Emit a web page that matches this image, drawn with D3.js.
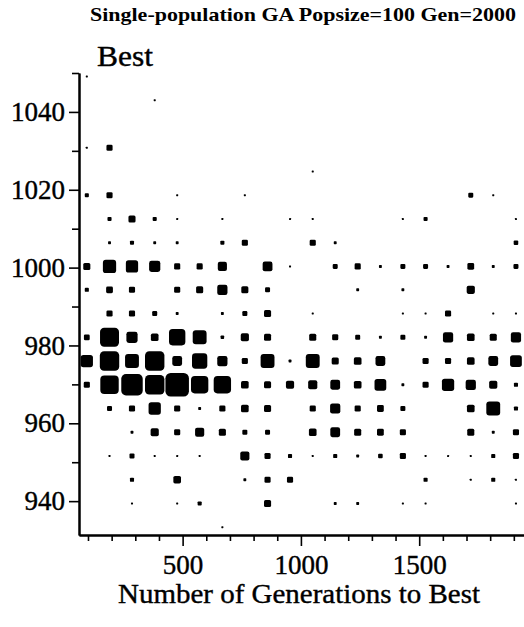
<!DOCTYPE html>
<html>
<head>
<meta charset="utf-8">
<script src="https://cdn.jsdelivr.net/npm/d3@7"></script>
<style>
  body { margin: 0; background: #fff; }
  svg text { font-family: "Liberation Serif", "Times New Roman", serif; fill: #000; }
</style>
</head>
<body>
<svg id="chart"></svg>
<script>
// bin centres of the 2-D histogram
var genBins = [95, 191, 286, 382, 477, 572, 668, 763, 859, 954,
               1050, 1145, 1240, 1336, 1431, 1527, 1622, 1718, 1813, 1909];
var bestBins = [1049.1, 1043.0, 1036.9, 1030.8, 1024.7, 1018.6, 1012.5, 1006.4, 1000.3, 994.3,
                988.2, 982.1, 976.0, 969.9, 963.8, 957.7, 951.6, 945.5, 939.4, 933.3];

// counts, one row per Best bin (top to bottom), one column per generation bin
var counts = [
  [1,0,0,0,0,0,0,0,0,0, 0,0,0,0,0,0,0,0,0,0],
  [0,0,0,1,0,0,0,0,0,0, 0,0,0,0,0,0,0,0,0,0],
  [0,0,0,0,0,0,0,0,0,0, 0,0,0,0,0,0,0,0,0,0],
  [1,9,0,0,0,0,0,0,0,0, 0,0,0,0,0,0,0,0,0,0],
  [0,0,0,0,0,0,0,0,0,0, 1,0,0,0,0,0,0,0,0,0],
  [4,9,0,0,1,0,0,1,0,0, 0,0,0,0,0,0,0,6,1,0],
  [0,4,12,4,1,0,1,0,0,1, 1,0,0,0,1,4,0,0,0,1],
  [0,2,4,2,2,0,4,9,0,0, 9,2,0,0,0,0,0,0,0,5],
  [12,42,36,30,9,9,20,0,23,1, 0,6,9,2,6,6,2,11,2,6],
  [4,11,9,0,9,12,25,12,6,0, 0,0,2,0,2,0,0,16,0,0],
  [0,9,9,6,2,0,2,6,12,0, 1,0,0,0,1,1,9,0,1,1],
  [8,86,30,14,64,46,3,16,12,0, 12,9,6,2,6,2,25,14,12,25],
  [36,90,46,90,23,56,25,9,46,2, 46,12,14,23,0,9,9,14,23,33],
  [9,81,110,90,132,72,72,14,12,16, 20,23,14,33,2,9,36,25,16,4],
  [0,6,9,36,9,2,9,14,12,0, 9,25,9,11,6,0,0,14,46,4],
  [0,0,2,16,9,20,12,6,6,0, 14,23,12,11,9,0,0,12,2,9],
  [0,1,6,1,1,1,0,20,9,4, 1,4,2,5,9,1,1,1,4,9],
  [0,0,4,0,14,0,0,2,9,9, 0,0,0,0,0,4,0,1,4,1],
  [0,0,1,0,1,4,0,0,12,0, 0,2,2,0,1,1,0,0,0,1],
  [0,0,0,0,0,0,1,0,0,0, 0,0,0,0,0,0,0,0,0,0]
];

var xMajor = [500, 1000, 1500];
var xMinor = [100, 200, 300, 400, 600, 700, 800, 900, 1100, 1200, 1300, 1400, 1600, 1700, 1800, 1900];
var yMajor = [940, 960, 980, 1000, 1020, 1040];
var yMinor = [950, 970, 990, 1010, 1030, 1050];

var screen = {width: 524, height: 627};

var svg = d3.select("#chart")
    .attr("width", screen.width)
    .attr("height", screen.height);

var xScale = d3.scaleLinear()
    .domain([62, 1943])
    .range([79, 524]);

var yScale = d3.scaleLinear()
    .domain([931.3, 1050])
    .range([535, 73]);

// square side grows with the square root of the count
var sideScale = d3.scaleSqrt()
    .domain([0, 132])
    .range([0, 23.5]);

// flatten the grid into cells
var cells = [];
counts.forEach(function(row, i)
{
    row.forEach(function(n, j)
    {
        if (n > 0) cells.push({gen: genBins[j], best: bestBins[i], n: n});
    });
});

svg.append("g")
    .classed("graph", true)
    .selectAll("rect")
    .data(cells)
    .enter()
    .append("rect")
    .attr("x", function(d) { return xScale(d.gen) - sideScale(d.n) / 2; })
    .attr("y", function(d) { return yScale(d.best) - sideScale(d.n) / 2; })
    .attr("width", function(d) { return sideScale(d.n); })
    .attr("height", function(d) { return sideScale(d.n); })
    .attr("rx", function(d) { return sideScale(d.n) * 0.22; })
    .attr("fill", "#000");

// axes
var styleAxis = function(g)
{
    g.select(".domain").attr("stroke-width", 2);
    g.selectAll(".tick line").attr("stroke-width", 1.6);
    g.selectAll("text")
        .attr("font-family", "Liberation Serif, serif")
        .attr("font-size", 27)
        .attr("stroke", "#000")
        .attr("stroke-width", 0.4);
};

svg.append("g")
    .attr("transform", "translate(0,535)")
    .call(d3.axisBottom(xScale).tickValues(xMinor).tickSize(6).tickSizeOuter(0).tickFormat(""))
    .call(styleAxis);

svg.append("g")
    .attr("transform", "translate(0,535)")
    .call(d3.axisBottom(xScale).tickValues(xMajor).tickSize(11).tickSizeOuter(0)
          .tickPadding(9).tickFormat(d3.format("d")))
    .call(styleAxis);

svg.append("g")
    .attr("transform", "translate(79,0)")
    .call(d3.axisLeft(yScale).tickValues(yMinor).tickSize(7).tickSizeOuter(0).tickFormat(""))
    .call(styleAxis);

svg.append("g")
    .attr("transform", "translate(79,0)")
    .call(d3.axisLeft(yScale).tickValues(yMajor).tickSize(10).tickSizeOuter(0)
          .tickPadding(4).tickFormat(d3.format("d")))
    .call(styleAxis);

// titles
svg.append("text")
    .attr("x", 90)
    .attr("y", 21)
    .attr("font-size", 19)
    .attr("font-weight", "bold")
    .attr("textLength", 426)
    .attr("lengthAdjust", "spacingAndGlyphs")
    .text("Single-population GA Popsize=100 Gen=2000");

svg.append("text")
    .attr("x", 97)
    .attr("y", 66)
    .attr("font-size", 29)
    .attr("stroke", "#000")
    .attr("stroke-width", 0.4)
    .attr("textLength", 56)
    .attr("lengthAdjust", "spacingAndGlyphs")
    .text("Best");

svg.append("text")
    .attr("x", 118)
    .attr("y", 603)
    .attr("font-size", 28)
    .attr("stroke", "#000")
    .attr("stroke-width", 0.4)
    .attr("textLength", 362)
    .attr("lengthAdjust", "spacingAndGlyphs")
    .text("Number of Generations to Best");
</script>
</body>
</html>
